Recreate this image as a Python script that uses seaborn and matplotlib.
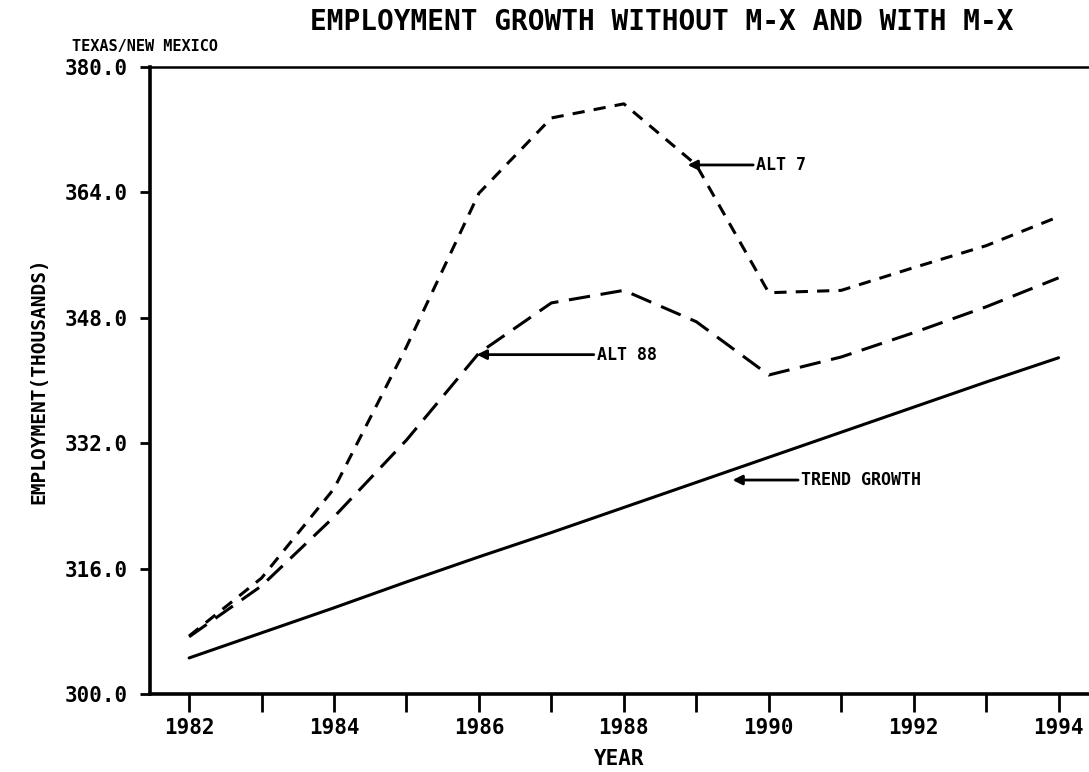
import numpy as np
import pandas as pd
import matplotlib
matplotlib.use('Agg')
import matplotlib.pyplot as plt
import seaborn as sns

years = [1982, 1983, 1984, 1985, 1986, 1987, 1988, 1989, 1990, 1991, 1992, 1993, 1994]
alt_7 = [307.4, 314.8, 326.2, 344.3, 363.9, 373.5, 375.3, 367.5, 351.2, 351.5, 354.4, 357.2, 360.9]
alt_88 = [307.3, 313.8, 322.6, 332.4, 343.5, 349.9, 351.5, 347.5, 340.7, 343.0, 346.1, 349.4, 353.1]
trend = [304.6, 307.8, 311.0, 314.3, 317.5, 320.6, 323.8, 327.0, 330.2, 333.4, 336.6, 339.8, 342.9]

y_ticks = [300, 316, 332, 348, 364, 380]
x_labels = [1982, 1984, 1986, 1988, 1990, 1992, 1994]

df = pd.concat([
    pd.DataFrame({'year': years, 'emp': alt_7, 'series': 'ALT 7'}),
    pd.DataFrame({'year': years, 'emp': alt_88, 'series': 'ALT 88'}),
    pd.DataFrame({'year': years, 'emp': trend, 'series': 'TREND GROWTH'}),
])

sns.set_theme(style='white')
plt.rcParams['font.family'] = ['DejaVu Sans Mono', 'DejaVu Sans']
plt.rcParams['font.weight'] = 'bold'
plt.rcParams['text.color'] = 'black'
plt.rcParams['axes.labelcolor'] = 'black'
plt.rcParams['xtick.color'] = 'black'
plt.rcParams['ytick.color'] = 'black'

fig = plt.figure(figsize=(10.89, 7.72), dpi=100)
ax = fig.add_axes([150 / 1089, 78 / 772, 1 - 150 / 1089, (694 - 67) / 772])

sns.lineplot(data=df, x='year', y='emp', style='series',
             dashes={'ALT 7': (4, 3), 'ALT 88': (7, 3.5), 'TREND GROWTH': ''},
             color='black', linewidth=2.2, legend=False, ax=ax)

ax.set_xlim(1981.46, 1994.42)
ax.set_ylim(300, 380)
ax.set_yticks(y_ticks)
ax.set_yticklabels(['%.1f' % v for v in y_ticks], fontsize=15, fontweight='bold')
ax.set_xticks(years, minor=True)
ax.set_xticks(x_labels)
ax.set_xticklabels([str(v) for v in x_labels], fontsize=15, fontweight='bold')
ax.tick_params(axis='y', direction='out', length=7, width=2, pad=9, left=True, colors='black')
ax.tick_params(axis='x', which='both', direction='out', length=13, width=2, pad=4, bottom=True, colors='black')

for side in ['left', 'bottom']:
    ax.spines[side].set_linewidth(2.6)
    ax.spines[side].set_color('black')
ax.spines['top'].set_linewidth(1.8)
ax.spines['top'].set_color('black')
ax.spines['right'].set_visible(False)

ax.set_xlabel('YEAR', fontsize=15, fontweight='bold', labelpad=8, color='black')
ax.set_ylabel('EMPLOYMENT(THOUSANDS)', fontsize=14, fontweight='bold', labelpad=12, color='black')

fig.text(662 / 1089, 1 - 22 / 772, 'EMPLOYMENT GROWTH WITHOUT M-X AND WITH M-X',
         ha='center', va='center', fontsize=20, fontweight='bold', color='black')
fig.text(72 / 1089, 1 - 46 / 772, 'TEXAS/NEW MEXICO', ha='left', va='center',
         fontsize=11, fontweight='bold', color='black')

arrow = dict(arrowstyle='-|>', color='black', lw=2, mutation_scale=14, shrinkA=0, shrinkB=0)
ax.annotate('ALT 7', xy=(1988.88, 367.5), xytext=(1989.83, 367.5), va='center',
            fontsize=12, fontweight='bold', color='black', arrowprops=arrow)
ax.annotate('ALT 88', xy=(1985.97, 343.3), xytext=(1987.63, 343.3), va='center',
            fontsize=12, fontweight='bold', color='black', arrowprops=arrow)
ax.annotate('TREND GROWTH', xy=(1989.5, 327.3), xytext=(1990.45, 327.3), va='center',
            fontsize=12, fontweight='bold', color='black', arrowprops=arrow)

fig.savefig('out.png', dpi=100)
